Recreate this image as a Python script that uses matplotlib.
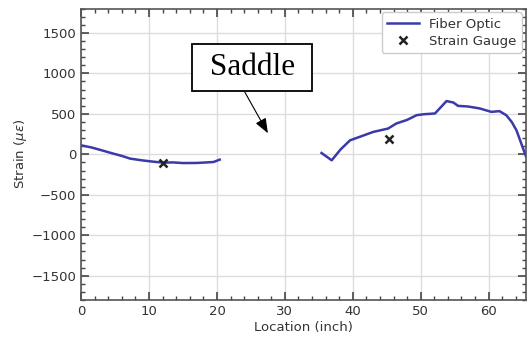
import matplotlib
matplotlib.use("Agg")
import matplotlib.pyplot as plt
from matplotlib.ticker import MultipleLocator

# fiber optic readings, two segments (gap under the saddle)
fo_left_x = [0, 1.5, 3, 4.75, 6, 7.2, 9, 10.5, 12.1, 13.5, 15, 17, 18.5, 19.5, 20.4]
fo_left_y = [111, 85, 50, 8, -20, -53, -75, -90, -103, -100, -108, -107, -100, -95, -66]
fo_right_x = [35.4, 36.9, 38.2, 39.6, 41, 43, 45.2, 46.4, 48, 49.4, 50.5, 52.1,
              53.8, 54.8, 55.5, 57, 58.7, 60.4, 61.6, 62.6, 63.4, 64.1, 65.5]
fo_right_y = [16, -74, 60, 173, 215, 276, 318, 380, 425, 483, 495, 504,
              657, 640, 598, 590, 566, 524, 533, 483, 400, 297, -25]

gauge_x = [12.1, 45.4]
gauge_y = [-103, 194]

fig, ax = plt.subplots(figsize=(5.27, 3.41), dpi=100)
fig.subplots_adjust(left=0.154, right=0.998, top=0.975, bottom=0.12)

line_c = "#3a3aa8"
ax.plot(fo_left_x, fo_left_y, "-", color=line_c, lw=1.8, label="Fiber Optic")
ax.plot(fo_right_x, fo_right_y, "-", color=line_c, lw=1.8)
ax.plot(gauge_x, gauge_y, "x", color="#222222", ms=6, mew=1.8,
        label="Strain Gauge", linestyle="none")

ax.set_xlim(0, 65.5)
ax.set_ylim(-1800, 1800)
ax.xaxis.set_major_locator(MultipleLocator(10))
ax.xaxis.set_minor_locator(MultipleLocator(2))
ax.yaxis.set_major_locator(MultipleLocator(500))
ax.yaxis.set_minor_locator(MultipleLocator(100))
ax.tick_params(which="both", direction="in", top=True, right=True,
               colors="#444444", labelcolor="#333333", labelsize=9.5)
ax.tick_params(which="major", length=6, width=1.2)
ax.tick_params(which="minor", length=3, width=1)
ax.grid(True, which="major", color="#dddddd", lw=1)
for s in ax.spines.values():
    s.set_color("#555555")
    s.set_linewidth(1.2)

ax.set_xlabel("Location (inch)", fontsize=9.5, color="#333333", labelpad=2)
ax.set_ylabel(r"Strain ($\mu\varepsilon$)", fontsize=9.5, color="#333333",
              labelpad=2)

leg = ax.legend(loc="upper right", fontsize=9.5, frameon=True, framealpha=1,
                edgecolor="#cccccc", handlelength=2.4, borderpad=0.4,
                labelspacing=0.3, borderaxespad=0.3)
for t in leg.get_texts():
    t.set_color("#333333")

ax.text(25.2, 1072, " Saddle ", ha="center", va="center", fontsize=22.5,
        family="Liberation Serif",
        bbox=dict(boxstyle="square,pad=0.3", fc="white", ec="black", lw=1.3))
ax.annotate("", xy=(27.5, 260), xytext=(24.1, 768),
            arrowprops=dict(arrowstyle="-|>,head_length=0.9,head_width=0.35",
                            color="black", lw=0.8, shrinkA=0, shrinkB=0))

fig.savefig("out.png")
